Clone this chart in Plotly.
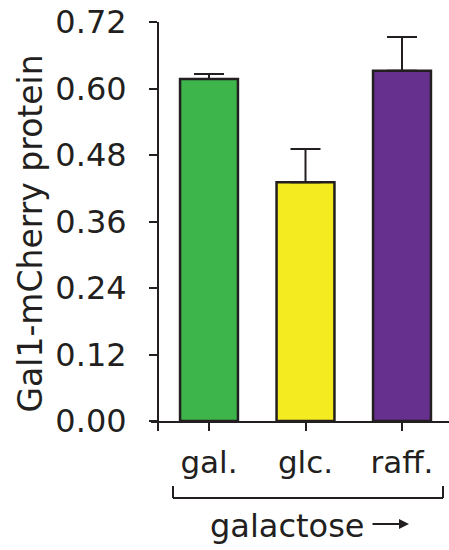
import plotly.graph_objects as go

categories = ["gal.", "glc.", "raff."]
means = [0.617, 0.431, 0.632]
errors_up = [0.009, 0.060, 0.061]
colors = ["#3DB54A", "#F4EB21", "#66308F"]
y_ticks = [0.00, 0.12, 0.24, 0.36, 0.48, 0.60, 0.72]
y_ticktext = ["0.00", "0.12", "0.24", "0.36", "0.48", "0.60", "0.72"]

FONT = "DejaVu Sans"
INK = "#231F20"

x_pos = list(range(len(categories)))

fig = go.Figure()
fig.add_trace(go.Bar(
    x=x_pos, y=means, width=0.6,
    marker=dict(color=colors, line=dict(color=INK, width=2.5)),
    error_y=dict(type="data", symmetric=False, array=errors_up,
                 arrayminus=[0] * len(means), color=INK, thickness=2, width=15),
    showlegend=False, hoverinfo="skip",
))

W, H = 449, 550
ml, mr, mt, mb = 151, 0, 22, 129
pw = W - ml - mr
ph = H - mt - mb
yaxis_px = 158
ypos = (yaxis_px - ml) / pw
x_left, x_right = -0.601, 2.487
yaxis_x_data = x_left + (x_right - x_left) * ypos

def px_x(p):
    return (p - ml) / pw

def px_y(p):
    return (H - mb - p) / ph

fig.update_layout(
    width=W, height=H,
    margin=dict(l=ml, r=mr, t=mt, b=mb, pad=0),
    plot_bgcolor="white", paper_bgcolor="white",
    font=dict(family=FONT, size=31, color=INK),
    bargap=0.4,
    xaxis=dict(
        range=[x_left, x_right],
        tickvals=[yaxis_x_data] + x_pos,
        ticktext=[""] + categories,
        showline=True, linecolor=INK, linewidth=2,
        ticks="outside", ticklen=8, tickwidth=2, tickcolor=INK,
        showgrid=False, zeroline=False,
        tickfont=dict(family=FONT, size=31, color=INK),
        ticklabelstandoff=5,
    ),
    yaxis=dict(
        range=[0, 0.72],
        tickvals=y_ticks, ticktext=y_ticktext,
        anchor="free", position=ypos,
        showline=True, linecolor=INK, linewidth=2,
        ticks="outside", ticklen=8, tickwidth=2, tickcolor=INK,
        showgrid=False, zeroline=False,
        tickfont=dict(family=FONT, size=32, color=INK),
        ticklabelstandoff=16,
    ),
)

# y-axis title
fig.add_annotation(
    text="Gal1-mCherry protein", textangle=-90,
    xref="paper", yref="paper", x=px_x(30), y=px_y(233.5),
    xanchor="center", yanchor="middle", showarrow=False,
    font=dict(family=FONT, size=33, color=INK),
)

# bracket under category labels
bx0, bx1, by, byt = px_x(173), px_x(443), px_y(498), px_y(486)
for (x0, y0, x1, y1) in [(bx0, by, bx1, by), (bx0, by, bx0, byt), (bx1, by, bx1, byt)]:
    fig.add_shape(type="line", xref="paper", yref="paper",
                  x0=x0, y0=y0, x1=x1, y1=y1,
                  line=dict(color=INK, width=2))

# galactose label + arrow
fig.add_annotation(
    text="galactose", xref="paper", yref="paper",
    x=px_x(287), y=px_y(526), xanchor="center", yanchor="middle",
    showarrow=False, font=dict(family=FONT, size=32, color=INK),
)
fig.add_annotation(
    text="", xref="paper", yref="paper",
    x=px_x(409), y=px_y(524), ax=-38, ay=0,
    showarrow=True, arrowhead=2, arrowsize=1, arrowwidth=2, arrowcolor=INK,
)

fig.write_html("out.html", config={"displayModeBar": False},
               post_script="document.body.style.margin='0';")
